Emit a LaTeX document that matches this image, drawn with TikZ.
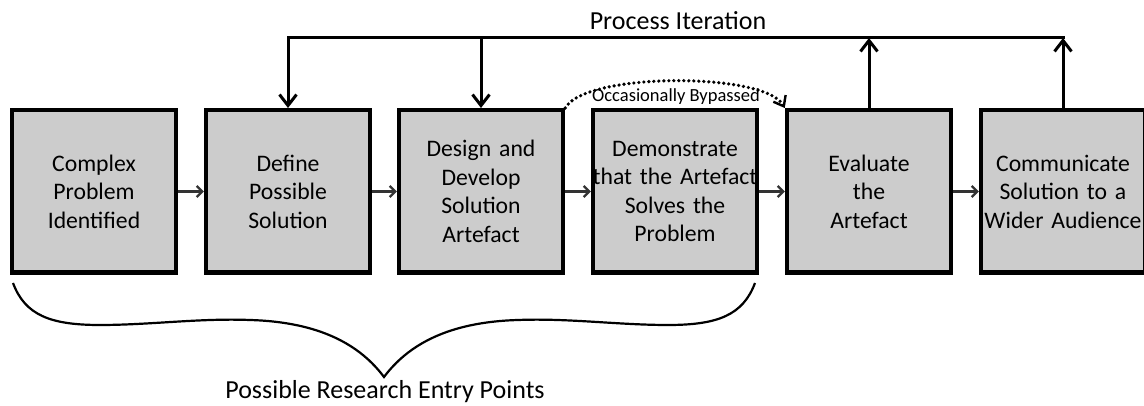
\documentclass[tikz,border=0pt]{standalone}
\usepackage{fontspec}
\setmainfont{Carlito}
\usetikzlibrary{arrows.meta}
\tikzset{
  stepbox/.style={draw=black, line width=4.5pt, fill=boxgray, minimum width=163.5pt, minimum height=162.5pt, inner sep=0pt, align=center, text width=164pt, font=\fontsize{23.7}{28.5}\selectfont},
  flow/.style={draw=flowgray, line width=2.2pt, -{Straight Barb[length=5.5pt,width=11pt,line width=2.2pt]}},
  iter/.style={draw=black, line width=3pt},
  iterarrow/.style={iter, -{Straight Barb[length=11pt,width=17pt,line width=3pt]}},
  bypass/.style={draw=black, line width=3.6pt, line cap=round, dash pattern=on 0pt off 5pt, -{Straight Barb[length=9pt,width=14pt,line width=2.4pt]}},
}
\definecolor{boxgray}{HTML}{CCCCCC}
\definecolor{flowgray}{HTML}{333333}
\begin{document}
\begin{tikzpicture}[x=1pt,y=-1pt]
\useasboundingbox (0,0) rectangle (1144,406);
\node[stepbox] (b1) at (94,191.5) {Complex\\Problem\\Identified};
\node[stepbox] (b2) at (288,191.5) {Define\\Possible\\Solution};
\node[stepbox] (b3) at (481,191.5) {Design and\\Develop\\Solution\\Artefact};
\node[stepbox] (b4) at (675,191.5) {Demonstrate\\\makebox[0pt][c]{that the Artefact}\\Solves the\\Problem};
\node[stepbox] (b5) at (869,191.5) {Evaluate\\the\\Artefact};
\node[stepbox] (b6) at (1063,191.5) {Communicate\\Solution to a\\\makebox[0pt][c]{Wider Audience}};
% flow arrows
\draw[flow] (b1.east) -- (b2.west);
\draw[flow] (b2.east) -- (b3.west);
\draw[flow] (b3.east) -- (b4.west);
\draw[flow] (b4.east) -- (b5.west);
\draw[flow] (b5.east) -- (b6.west);
% process iteration
\coordinate (tl) at (288,38);
\coordinate (tm) at (481,38);
\coordinate (t5) at (869,38);
\coordinate (tr) at (1063,38);
\draw[iter, line cap=rect] (tl) -- (tr);
\draw[iterarrow] (tl) -- (b2.north);
\draw[iterarrow] (tm) -- (b3.north);
\draw[iterarrow] (b5.north) -- (t5);
\draw[iterarrow] (b6.north) -- (tr);
\node[anchor=base, font=\fontsize{26}{31}\selectfont, inner sep=0pt] (pi) at (678,30) {Process Iteration};
% bypass
\draw[bypass] (b3.north east) .. controls (585,72) and (765,72) .. (b5.north west);
\node[anchor=base, font=\fontsize{18.5}{22}\selectfont, inner sep=0pt] (ob) at (676,102) {Occasionally Bypassed};
% brace
\coordinate (bl) at (13,283);
\coordinate (br) at (755,283);
\coordinate (tip) at (384,377);
\draw[line width=2.2pt] (bl) .. controls (25,315) and (50,325) .. (100,325)
  .. controls (150,325) and (200,318) .. (250,320)
  .. controls (320,322) and (360,345) .. (tip)
  .. controls (408,345) and (448,322) .. (518,320)
  .. controls (568,318) and (618,325) .. (668,325)
  .. controls (718,325) and (743,315) .. (br);
\node[anchor=base, font=\fontsize{26}{31}\selectfont, inner sep=0pt] (pr) at (385,398) {Possible Research Entry Points};
\end{tikzpicture}
\end{document}
